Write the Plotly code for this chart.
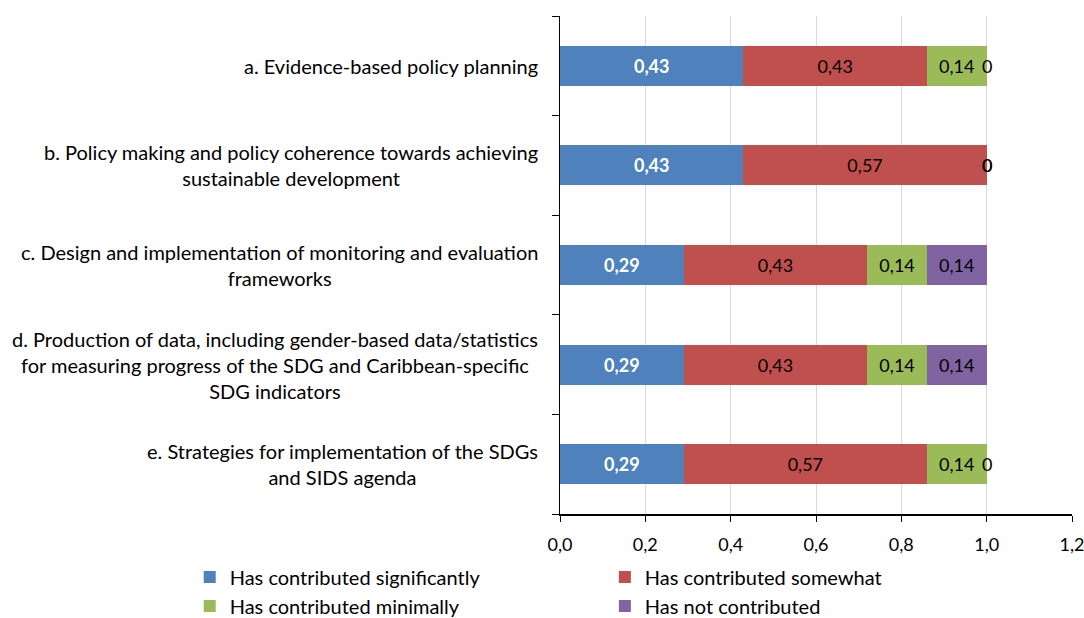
import plotly.graph_objects as go

categories = [
    "a. Evidence-based policy planning",
    "b. Policy making and policy coherence towards achieving<br>sustainable development",
    "c. Design and implementation of monitoring and evaluation<br>frameworks",
    "d. Production of data, including gender-based data/statistics<br>for measuring progress of the SDG and Caribbean-specific<br>SDG indicators",
    "e. Strategies for implementation of the SDGs<br>and SIDS agenda",
]
cat_keys = ["a", "b", "c", "d", "e"]

significantly = [0.43, 0.43, 0.29, 0.29, 0.29]
somewhat = [0.43, 0.57, 0.43, 0.43, 0.57]
minimally = [0.14, 0, 0.14, 0.14, 0.14]
not_contributed = [0, 0, 0.14, 0.14, 0]

FONT = "Lato"
series = [
    ("Has contributed significantly", significantly, "#4F81BD", dict(color="white", size=18, family=FONT, weight="bold"), "legend"),
    ("Has contributed somewhat", somewhat, "#C0504D", dict(color="black", size=18, family=FONT), "legend2"),
    ("Has contributed minimally", minimally, "#9BBB59", dict(color="black", size=18, family=FONT), "legend"),
    ("Has not contributed", not_contributed, "#8064A2", dict(color="black", size=18, family=FONT), "legend2"),
]

fig = go.Figure()
cum = [0.0] * len(cat_keys)
zero_x, zero_y = [], []
for name, vals, color, tf, lg in series:
    texts = [f"{v:.2f}".replace(".", ",") if v > 0 else "" for v in vals]
    fig.add_trace(go.Bar(
        name=name, y=cat_keys, x=vals, orientation="h",
        marker=dict(color=color, line=dict(width=0)),
        text=texts, textposition="inside", insidetextanchor="middle",
        textangle=0, constraintext="none", textfont=tf,
        hoverinfo="skip", legend=lg,
    ))
    for i, v in enumerate(vals):
        if v == 0:
            zero_x.append(cum[i])
            zero_y.append(cat_keys[i])
        cum[i] += v

# labels for zero-valued segments, placed at the stacked position
for zx, zy in zip(zero_x, zero_y):
    fig.add_annotation(
        x=zx, y=zy, xref="x", yref="y", text="0", showarrow=False,
        xanchor="center", yanchor="middle",
        font=dict(color="black", size=18, family=FONT),
    )

for key, label in zip(cat_keys, categories):
    fig.add_annotation(
        x=0, xref="paper", y=key, yref="y", text=label, showarrow=False,
        xanchor="right", yanchor="middle", align="center", xshift=-20,
        font=dict(family=FONT, size=20, color="black"),
    )

legend_common = dict(
    orientation="v", xref="container", yref="container",
    yanchor="top", xanchor="left",
    font=dict(size=20, family=FONT, color="black"),
    traceorder="normal", itemwidth=30, bgcolor="rgba(0,0,0,0)",
)

fig.update_layout(
    width=1084, height=618,
    barmode="stack", bargap=0.6,
    separators=",.",
    plot_bgcolor="white", paper_bgcolor="white",
    margin=dict(l=560, r=12, t=16, b=104, autoexpand=False),
    font=dict(family=FONT, color="black"),
    xaxis=dict(
        range=[0, 1.2], dtick=0.2, tick0=0, tickformat=".1f",
        showgrid=True, gridcolor="#D9D9D9", gridwidth=1,
        showline=True, linecolor="black", linewidth=1.5,
        ticks="outside", ticklen=6, tickcolor="black",
        tickfont=dict(size=18, family=FONT, color="black"),
        ticklabelstandoff=8, ticklabeloverflow="allow",
        zeroline=False, fixedrange=True, automargin=False,
    ),
    yaxis=dict(
        categoryorder="array", categoryarray=cat_keys[::-1],
        showticklabels=False, tickson="boundaries",
        ticks="outside", ticklen=7, tickcolor="black",
        showline=True, linecolor="black", linewidth=1.5,
        showgrid=False, zeroline=False, automargin=False, fixedrange=True,
    ),
    legend=dict(x=0.175, y=0.098, **legend_common),
    legend2=dict(x=0.558, y=0.098, **legend_common),
    showlegend=True,
)

fig.write_html(
    "out.html",
    config={"displayModeBar": False, "staticPlot": True},
    post_script="document.body.style.margin='0';document.body.style.overflow='hidden';",
)
